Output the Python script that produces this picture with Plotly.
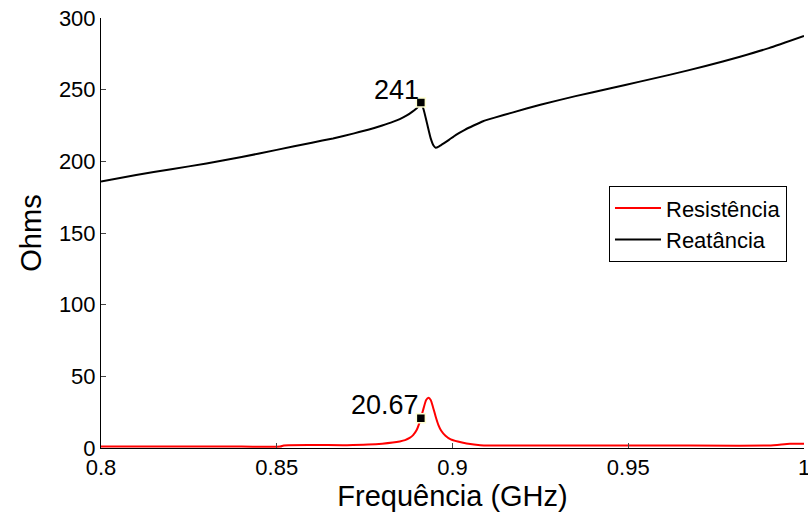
import plotly.graph_objects as go

freq_x = [0.800, 0.810, 0.820, 0.830, 0.840, 0.850, 0.860, 0.866, 0.872, 0.876,
          0.880, 0.883, 0.885, 0.887, 0.8885, 0.890, 0.891, 0.8918, 0.8928, 0.8938,
          0.8946, 0.8952, 0.8962, 0.8975, 0.899, 0.901, 0.9035, 0.906, 0.9087, 0.912,
          0.917, 0.925, 0.935, 0.945, 0.9533, 0.962, 0.972, 0.9818, 0.990, 1.000]
reatancia = [186.0, 190.5, 194.5, 198.5, 203.0, 208.0, 213.0, 216.0, 219.5, 222.0,
             225.0, 227.5, 229.5, 232.0, 234.5, 237.5, 241.0, 236.0, 226.0, 216.0,
             211.0, 209.5, 210.5, 212.5, 215.0, 218.5, 222.0, 225.0, 228.0, 230.5,
             234.0, 239.5, 245.5, 251.0, 255.6, 260.5, 266.5, 273.0, 279.0, 287.5]

freq_r = [0.800, 0.820, 0.840, 0.851, 0.852, 0.870, 0.876, 0.880, 0.883, 0.885,
          0.8865, 0.8878, 0.8888, 0.8898, 0.891, 0.8918, 0.8925, 0.8932, 0.8938, 0.8944,
          0.8952, 0.896, 0.8968, 0.898, 0.8995, 0.9015, 0.904, 0.9079, 0.930, 0.960,
          0.990, 0.996, 1.000]
resistencia = [1.0, 1.0, 1.0, 1.0, 1.8, 2.0, 2.4, 3.0, 3.8, 4.6,
               5.5, 7.0, 9.0, 12.5, 20.67, 28.0, 33.5, 35.0, 33.5, 29.0,
               22.0, 16.0, 12.0, 8.5, 6.0, 4.5, 3.2, 2.0, 1.8, 1.8,
               1.8, 3.0, 3.0]

tip_x = [0.891, 0.891]
tip_y = [241.0, 20.67]
tip_txt = ["241", "20.67"]

x_ticks = [0.8, 0.85, 0.9, 0.95, 1.0]
x_tick_txt = ["0.8", "0.85", "0.9", "0.95", "1"]
y_ticks = [0, 50, 100, 150, 200, 250, 300]

FONT = "Liberation Sans, Arial"

fig = go.Figure()
fig.add_trace(go.Scatter(x=freq_r, y=resistencia, mode="lines", name="Resistência",
                         line=dict(color="#ff0000", width=2, shape="spline", smoothing=0.6)))
fig.add_trace(go.Scatter(x=freq_x, y=reatancia, mode="lines", name="Reatância",
                         line=dict(color="#000000", width=2, shape="spline", smoothing=0.5)))
fig.add_trace(go.Scatter(x=tip_x, y=tip_y, mode="markers", showlegend=False,
                         marker=dict(symbol="square", size=9, color="#000000",
                                     line=dict(color="#ffffd0", width=1.5))))

for xv, yv, t in zip(tip_x, tip_y, tip_txt):
    fig.add_annotation(x=xv, y=yv, text=t, showarrow=False, xanchor="right", yanchor="bottom",
                       xshift=0, yshift=-4,
                       font=dict(family=FONT, size=27, color="#000"))

axis_font = dict(family=FONT, size=22, color="#000")
fig.update_layout(
    width=808, height=520,
    margin=dict(l=101, r=4, t=18, b=72),
    plot_bgcolor="white", paper_bgcolor="white",
    font=dict(family=FONT, color="#000"),
    xaxis=dict(range=[0.8, 1.0], tickvals=x_ticks, ticktext=x_tick_txt,
               showgrid=False, zeroline=False, showline=True, linecolor="#000", linewidth=1,
               ticks="inside", ticklen=5, tickcolor="#444", tickfont=axis_font,
               ticklabeloverflow="allow", automargin="height",
               title=dict(text="Frequência (GHz)", font=dict(family=FONT, size=29), standoff=2)),
    yaxis=dict(range=[0, 300], tickvals=y_ticks,
               showgrid=False, zeroline=False, showline=True, linecolor="#000", linewidth=1,
               ticks="inside", ticklen=5, tickcolor="#444", tickfont=axis_font,
               title=dict(text="Ohms", font=dict(family=FONT, size=29), standoff=8)),
    legend=dict(x=0.7226, y=0.609, xanchor="left", yanchor="top",
                bgcolor="white", bordercolor="#000", borderwidth=1,
                font=dict(family=FONT, size=22, color="#000"),
                tracegroupgap=0, itemwidth=46),
    showlegend=True,
)

fig.write_html("out.html")
